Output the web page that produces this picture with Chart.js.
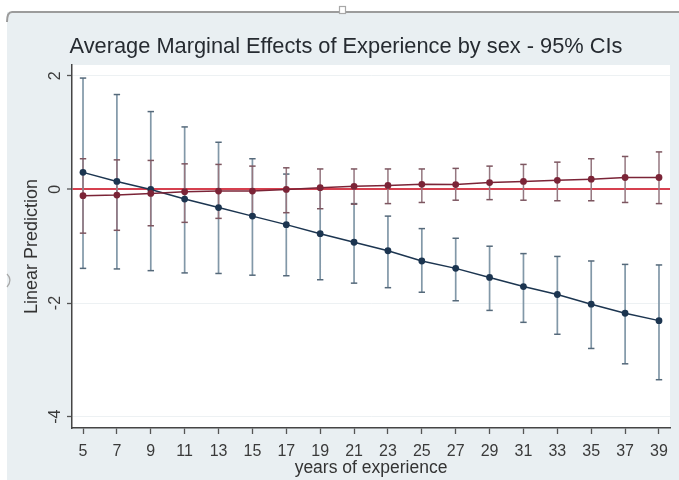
<!DOCTYPE html>
<html>
<head>
<meta charset="utf-8">
<script src="https://cdn.jsdelivr.net/npm/chart.js@4.4.0/dist/chart.umd.min.js"></script>
<style>
html,body{margin:0;padding:0;background:#ffffff;}
canvas{display:block;}
</style>
</head>
<body>
<canvas id="c" width="679" height="480"></canvas>
<script>
// ---- data ----
const years = [5,7,9,11,13,15,17,19,21,23,25,27,29,31,33,35,37,39];
const xTickLabels = [5,7,9,11,13,15,17,19,21,23,25,27,29,31,33,35,37,39];
const yTickLabels = [2,0,-2,-4];
const chartTitle = 'Average Marginal Effects of Experience by sex - 95% CIs';

// navy series (margins and 95% CI)
const navyMargin = [0.30,0.14,0.00,-0.17,-0.32,-0.47,-0.62,-0.78,-0.93,-1.08,-1.26,-1.39,-1.55,-1.71,-1.85,-2.02,-2.18,-2.31];
const navyHigh   = [1.96,1.67,1.37,1.10,0.83,0.54,0.27,0.02,-0.25,-0.47,-0.69,-0.86,-1.00,-1.13,-1.18,-1.26,-1.32,-1.33];
const navyLow    = [-1.39,-1.40,-1.43,-1.47,-1.48,-1.51,-1.52,-1.59,-1.65,-1.73,-1.81,-1.96,-2.13,-2.34,-2.55,-2.80,-3.07,-3.35];

// maroon series (margins and 95% CI)
const maroonMargin = [-0.11,-0.10,-0.07,-0.04,-0.03,-0.03,0.00,0.03,0.055,0.07,0.09,0.085,0.12,0.14,0.16,0.18,0.21,0.21];
const maroonHigh   = [0.54,0.52,0.51,0.45,0.44,0.41,0.38,0.36,0.36,0.36,0.36,0.37,0.41,0.44,0.48,0.54,0.58,0.66];
const maroonLow    = [-0.77,-0.72,-0.64,-0.58,-0.51,-0.45,-0.41,-0.34,-0.26,-0.25,-0.23,-0.19,-0.18,-0.19,-0.20,-0.20,-0.23,-0.25];

const FONT = '"Liberation Sans", Arial, Helvetica, sans-serif';

function pts(xs, ys){ return xs.map((x,i)=>({x:x, y:ys[i]})); }
function ciSegments(xs, lo, hi){
  const out = [];
  xs.forEach((x,i)=>{ out.push({x:x,y:lo[i]}); out.push({x:x,y:hi[i]}); out.push({x:x,y:null}); });
  return out;
}

const bgPlugin = {
  id:'bg',
  beforeDraw(chart){
    const ctx = chart.ctx, W = chart.width, H = chart.height, a = chart.chartArea;
    ctx.save();
    ctx.fillStyle = '#ffffff'; ctx.fillRect(0,0,W,H);
    ctx.fillStyle = '#e9eff2'; ctx.fillRect(7,12,W-7,H-12);
    ctx.strokeStyle = '#9c9c9c'; ctx.lineWidth = 2;
    ctx.beginPath(); ctx.moveTo(12,12); ctx.lineTo(W,12); ctx.stroke();
    ctx.beginPath(); ctx.moveTo(7,22); ctx.quadraticCurveTo(7,12,12,12); ctx.stroke();
    // small handle notch at top
    ctx.fillStyle = '#ffffff'; ctx.lineWidth = 1.2; ctx.strokeStyle = '#a8a8a8';
    ctx.fillRect(339,6,7,8); ctx.strokeRect(339.5,6.5,6,7);
    // small side handle
    ctx.beginPath(); ctx.moveTo(7,274); ctx.quadraticCurveTo(13,280,7,287); ctx.stroke();
    // plot region
    ctx.fillStyle = '#ffffff';
    ctx.fillRect(a.left, a.top, a.right-a.left, a.bottom-a.top);
    // title
    ctx.font = '21.8px ' + FONT;
    ctx.fillStyle = '#262b31';
    ctx.textAlign = 'center';
    ctx.textBaseline = 'alphabetic';
    ctx.fillText(chartTitle, 346, 53);
    ctx.restore();
  },
  afterDraw(chart){
    const ctx = chart.ctx, ys = chart.scales.y;
    ctx.save();
    ctx.font = '16px ' + FONT;
    ctx.fillStyle = '#3a3a3a';
    ctx.textAlign = 'center';
    ctx.textBaseline = 'middle';
    yTickLabels.forEach(v=>{
      const p = ys.getPixelForValue(v);
      ctx.save();
      ctx.translate(56, p);
      ctx.rotate(-Math.PI/2);
      ctx.fillText(String(v), 0, 0);
      ctx.restore();
    });
    ctx.restore();
  }
};

new Chart(document.getElementById('c'), {
  type:'scatter',
  data:{
    datasets:[
      { label:'maroon', type:'line', data:pts(years, maroonMargin), order:0,
        borderColor:'#7b2437', backgroundColor:'#7b2437', borderWidth:1.5,
        pointRadius:3.4, pointBackgroundColor:'#7b2437', pointBorderColor:'#7b2437', pointBorderWidth:0 },
      { label:'navy', type:'line', data:pts(years, navyMargin), order:1,
        borderColor:'#1c3550', backgroundColor:'#1c3550', borderWidth:1.5,
        pointRadius:3.4, pointBackgroundColor:'#1c3550', pointBorderColor:'#1c3550', pointBorderWidth:0 },
      { label:'maroon CI', type:'line', data:ciSegments(years, maroonLow, maroonHigh), order:2,
        spanGaps:false, borderColor:'#957780', borderWidth:1.5,
        pointStyle:'line', pointRadius:3.2, pointBorderColor:'#7d5660', pointBorderWidth:1.5 },
      { label:'navy CI', type:'line', data:ciSegments(years, navyLow, navyHigh), order:3,
        spanGaps:false, borderColor:'#8298a8', borderWidth:1.7,
        pointStyle:'line', pointRadius:3.2, pointBorderColor:'#55697a', pointBorderWidth:1.5 }
    ]
  },
  options:{
    responsive:false,
    animation:false,
    devicePixelRatio:1,
    layout:{ padding:{ top:65, left:0, right:9, bottom:0 } },
    plugins:{
      legend:{ display:false },
      tooltip:{ enabled:false },
      title:{ display:false }
    },
    scales:{
      x:{
        type:'linear', min:4.35, max:39.65,
        afterBuildTicks(s){ s.ticks = xTickLabels.map(v=>({value:v})); },
        afterFit(s){ s.height = 52; },
        grid:{ display:true, drawOnChartArea:false, drawTicks:true, tickLength:6, tickColor:'#555', tickWidth:1.3 },
        border:{ display:true, color:'#454545', width:1.5 },
        ticks:{ autoSkip:false, maxRotation:0, padding:8, color:'#3a3a3a', font:{ family:FONT, size:16 },
          callback:(v)=>String(v) },
        title:{ display:true, text:'years of experience', color:'#333', font:{ family:FONT, size:17.5 },
          padding:{ top:0, bottom:1.5 } }
      },
      y:{
        type:'linear', min:-4.2, max:2.19,
        afterBuildTicks(s){ s.ticks = yTickLabels.map(v=>({value:v})); },
        afterFit(s){ s.width = 72; },
        grid:{ display:true, drawOnChartArea:true, drawTicks:true, tickLength:5, tickColor:'#555', tickWidth:1.3,
          color:(c)=> (c.tick && c.tick.value===0) ? '#d6404f' : '#edf1f3',
          lineWidth:(c)=> (c.tick && c.tick.value===0) ? 2 : 1 },
        border:{ display:true, color:'#454545', width:1.5 },
        ticks:{ display:false },
        title:{ display:true, text:'Linear Prediction', color:'#333', font:{ family:FONT, size:18 },
          padding:{ top:21, bottom:0 } }
      }
    }
  },
  plugins:[bgPlugin]
});
</script>
</body>
</html>
